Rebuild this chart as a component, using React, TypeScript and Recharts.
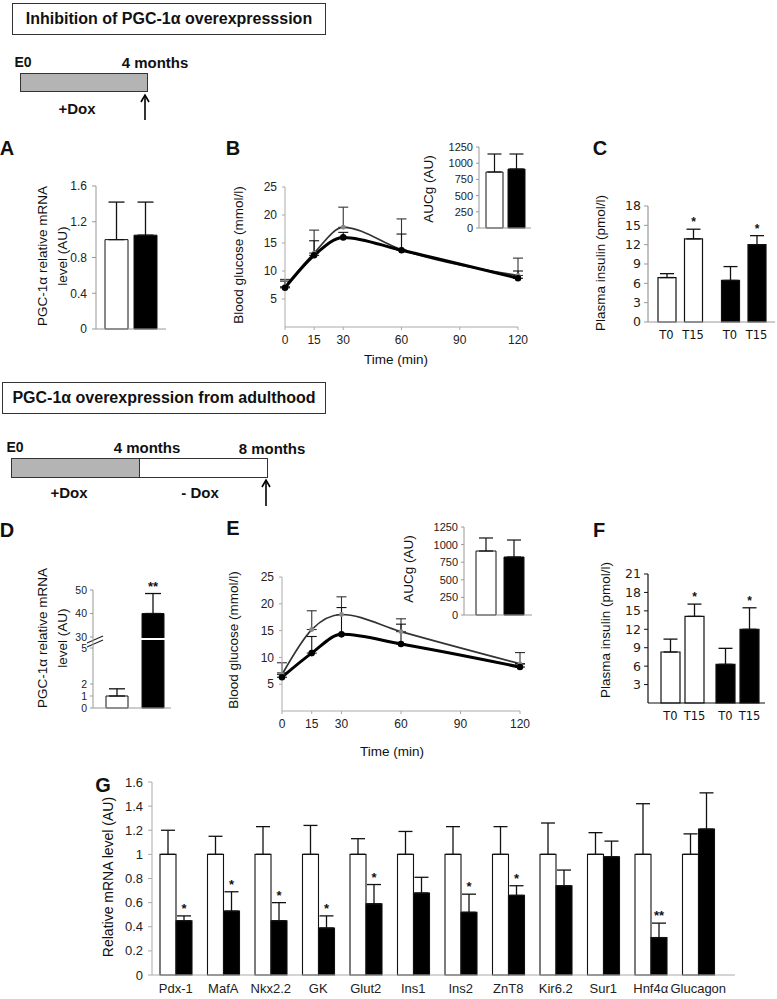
import React from "react";
import {
  BarChart, Bar, LineChart, Line, XAxis, YAxis, ErrorBar, Cell, LabelList, ReferenceLine,
} from "recharts";

const ARIAL = "'Liberation Sans', Arial, sans-serif";
const VERD = "'DejaVu Sans', Verdana, sans-serif";
const INK = "#111";

// ---- A: PGC-1α mRNA after 4 months on Dox
const A_GROUPS = ["Control", "Tg"];
const A_VALUES = [1.0, 1.05];
const A_ERRORS = [0.42, 0.37];
const A_TICKS = [0, 0.4, 0.8, 1.2, 1.6];

// ---- B / E: glucose tolerance test
const GTT_TIMES = [0, 15, 30, 60, 120];
const TIME_TICKS = [0, 15, 30, 60, 90, 120];
const GLUCOSE_TICKS = [5, 10, 15, 20, 25];
const B_CTRL = [7.2, 13.2, 17.8, 13.8, 9.2];
const B_CTRL_ERR = [1.3, 4.1, 3.6, 5.5, 3.1];
const B_TG = [7.0, 12.8, 16.0, 13.7, 8.7];
const B_TG_ERR = [1.2, 2.6, 0.9, 2.9, 1.3];
const AUC_TICKS = [0, 250, 500, 750, 1000, 1250];
const B_AUC = [864, 910];
const B_AUC_ERR = [278, 232];

const E_CTRL = [6.8, 15.2, 18.0, 14.8, 8.8];
const E_CTRL_ERR = [2.2, 3.5, 3.3, 2.4, 2.1];
const E_TG = [6.3, 10.8, 14.3, 12.5, 8.2];
const E_TG_ERR = [0.8, 3.1, 5.0, 3.7, 0.6];
const E_AUC = [909, 824];
const E_AUC_ERR = [185, 241];

// ---- C / F: plasma insulin
const INS_TIMES = ["T0", "T15"];
const C_T0 = [6.9, 6.45];
const C_T0_ERR = [0.6, 2.15];
const C_T15 = [12.9, 12.0];
const C_T15_ERR = [1.5, 1.4];
const C_TICKS = [0, 3, 6, 9, 12, 15, 18];

const F_T0 = [8.3, 6.3];
const F_T0_ERR = [2.1, 2.6];
const F_T15 = [14.1, 12.0];
const F_T15_ERR = [2.0, 3.5];
const F_TICKS = [3, 6, 9, 12, 15, 18, 21];
const INS_SIG = ["*", "*"];

// ---- D: PGC-1α mRNA from adulthood (broken axis)
const D_VALUES = [1, 40];
const D_ERRORS = [0.6, 8.5];
const D_TICKS = [0, 1, 2, 5, 30, 40, 50];
const D_SIG = ["", "**"];

// ---- G: islet genes
const GENES = ["Pdx-1", "MafA", "Nkx2.2", "GK", "Glut2", "Ins1", "Ins2", "ZnT8", "Kir6.2", "Sur1", "Hnf4α", "Glucagon"];
const G_CTRL = [1, 1, 1, 1, 1, 1, 1, 1, 1, 1, 1, 1];
const G_CTRL_ERR = [0.2, 0.15, 0.23, 0.24, 0.13, 0.19, 0.23, 0.23, 0.26, 0.18, 0.42, 0.17];
const G_TG = [0.45, 0.53, 0.45, 0.39, 0.59, 0.68, 0.52, 0.66, 0.74, 0.98, 0.31, 1.21];
const G_TG_ERR = [0.04, 0.16, 0.15, 0.1, 0.16, 0.13, 0.15, 0.08, 0.13, 0.13, 0.12, 0.3];
const G_SIG = ["*", "*", "*", "*", "*", "", "*", "*", "", "", "**", ""];
const G_TICKS = [0, 0.2, 0.4, 0.6, 0.8, 1, 1.2, 1.4, 1.6];

// broken axis for D: lower segment kept as is, upper segment compressed
const D_BREAK_LOW = 5.75;
const D_BREAK_HIGH = 29.13;
const D_UPPER_SCALE = 0.196;
const dAxis = (v: number) => (v <= D_BREAK_LOW ? v : D_BREAK_LOW + (v - D_BREAK_HIGH) * D_UPPER_SCALE);

const FILLS = ["#fff", "#000"];

function Txt({ x, y, children, size = 13, bold = false, family = ARIAL }: any) {
  return (
    <div style={{
      position: "absolute", left: x, top: y, transform: "translate(-50%, -50%)",
      fontSize: size, fontWeight: bold ? 700 : 400, fontFamily: family,
      whiteSpace: "nowrap", lineHeight: 1, color: INK,
    }}>{children}</div>
  );
}

function VLabel({ x, y, lines, size = 13.5 }: any) {
  return (
    <div style={{
      position: "absolute", left: x, top: y, transform: "translate(-50%, -50%) rotate(-90deg)",
      fontSize: size, fontFamily: ARIAL, whiteSpace: "nowrap", lineHeight: 1.45,
      textAlign: "center", color: INK,
    }}>{lines.map((l: string) => <div key={l}>{l}</div>)}</div>
  );
}

function Arrow({ x, y1, y2 }: any) {
  return (
    <svg style={{ position: "absolute", left: x - 6, top: y1 - 2 }} width={12} height={y2 - y1 + 4}>
      <line x1={6} x2={6} y1={3} y2={y2 - y1 + 2} stroke="#000" strokeWidth={1.6} />
      <polyline points={`2,9 6,2 10,9`} fill="none" stroke="#000" strokeWidth={1.6} />
    </svg>
  );
}

function Box({ left, top, width, height, children }: any) {
  return (
    <div style={{
      position: "absolute", left, top, width, height, boxSizing: "border-box",
      border: "1.5px solid #333", display: "flex", alignItems: "center", justifyContent: "center",
      fontFamily: ARIAL, fontWeight: 700, fontSize: 16, color: INK,
    }}>{children}</div>
  );
}

function Place({ left, top, children }: any) {
  return <div style={{ position: "absolute", left, top }}>{children}</div>;
}

// star above the error bar: bar height gives pixels per unit
function stars(sig: string[], vals: number[], errs: number[], size = 13) {
  return (props: any) => {
    const vb = props.viewBox ?? props;
    const { x, y, width, height } = vb;
    const i = props.index;
    const s = sig[i];
    if (!s) return null;
    const top = y - errs[i] * (Math.abs(height) / vals[i]);
    return (
      <text key={`s${i}`} x={x + width / 2} y={top - 3} textAnchor="middle"
        fontFamily={ARIAL} fontSize={size} fontWeight={700} fill={INK}>{s}</text>
    );
  };
}

function pairTick(offset: number, family: string, size: number) {
  return (props: any) => (
    <g>
      {INS_TIMES.map((t, i) => (
        <text key={t} x={props.x + (i === 0 ? -offset : offset)} y={props.y} dy="0.71em"
          textAnchor="middle" fontFamily={family} fontSize={size} fill={INK}>{t}</text>
      ))}
    </g>
  );
}

const tickStyle = (size: number, family = ARIAL) => ({ fontSize: size, fill: "#222", fontFamily: family });

function GlucoseChart({ ctl, ctlErr, tg, tgErr, width, height }: any) {
  const data = GTT_TIMES.map((t, i) => ({
    t, ctl: ctl[i], ctlE: [0, ctlErr[i]], tg: tg[i], tgE: [0, tgErr[i]],
  }));
  return (
    <LineChart width={width} height={height} data={data} margin={{ top: 17, right: 10, bottom: 0, left: 0 }}>
      <XAxis type="number" dataKey="t" domain={[0, 120]} ticks={TIME_TICKS} interval={0} height={25}
        tickSize={3} tickMargin={5} axisLine={{ stroke: "#aaa" }} tickLine={{ stroke: "#aaa" }}
        tick={tickStyle(12)} />
      <YAxis width={30} domain={[0, 25]} ticks={GLUCOSE_TICKS} interval={0} tickSize={3} tickMargin={5}
        axisLine={{ stroke: "#aaa" }} tickLine={{ stroke: "#aaa" }} tick={tickStyle(12)} />
      <Line dataKey="ctl" type="monotone" stroke="#333" strokeWidth={1.7}
        dot={{ r: 1.6, fill: "#888", stroke: "#888" }} isAnimationActive={false}>
        <ErrorBar dataKey="ctlE" width={5} stroke="#333" strokeWidth={1.1} direction="y" />
      </Line>
      <Line dataKey="tg" type="monotone" stroke="#000" strokeWidth={3}
        dot={{ r: 1.8, fill: "#000", stroke: "#000" }} isAnimationActive={false}>
        <ErrorBar dataKey="tgE" width={5} stroke="#111" strokeWidth={1.1} direction="y" />
      </Line>
    </LineChart>
  );
}

function AucChart({ values, errors, width, height, padL, padR, barSize }: any) {
  const data = A_GROUPS.map((g, i) => ({ g, v: values[i], e: [0, errors[i]] }));
  return (
    <BarChart width={width} height={height} data={data} margin={{ top: 7, right: 2, bottom: 0, left: 0 }}>
      <XAxis dataKey="g" tick={false} tickLine={false} height={8} padding={{ left: padL, right: padR }}
        axisLine={{ stroke: "#999" }} />
      <YAxis width={35} domain={[0, 1250]} ticks={AUC_TICKS} interval={0} tickSize={3} tickMargin={3}
        axisLine={{ stroke: "#999" }} tickLine={{ stroke: "#999" }} tick={tickStyle(11)} />
      <Bar dataKey="v" barSize={barSize} stroke={INK} strokeWidth={1} isAnimationActive={false}>
        {data.map((d, i) => <Cell key={d.g} fill={FILLS[i]} />)}
        <ErrorBar dataKey="e" width={7} stroke={INK} strokeWidth={1.2} direction="y" />
      </Bar>
    </BarChart>
  );
}

function InsulinChart({ t0, t0Err, t15, t15Err, ticks, width, height, top, barSize, barGap, padL, axis, tickFont, family }: any) {
  const data = A_GROUPS.map((g, i) => ({
    g, t0: t0[i], t0E: [0, t0Err[i]], t15: t15[i], t15E: [0, t15Err[i]],
  }));
  return (
    <BarChart width={width} height={height} data={data} barGap={barGap}
      margin={{ top, right: 2, bottom: 0, left: 0 }}>
      <XAxis dataKey="g" interval={0} height={24} tickSize={0} tickMargin={9}
        padding={{ left: padL, right: 0 }} axisLine={{ stroke: axis, strokeWidth: 1.2 }}
        tick={pairTick((barSize + barGap) / 2, family, tickFont)} />
      <YAxis width={34} domain={[0, ticks[ticks.length - 1]]} ticks={ticks} interval={0}
        tickSize={4} tickMargin={3} axisLine={{ stroke: axis, strokeWidth: 1.2 }} tickLine={{ stroke: axis }}
        tick={tickStyle(tickFont + 1, family)} />
      <Bar dataKey="t0" barSize={barSize} stroke={INK} strokeWidth={1.2} isAnimationActive={false}>
        {data.map((d, i) => <Cell key={d.g} fill={FILLS[i]} />)}
        <ErrorBar dataKey="t0E" width={7} stroke={INK} strokeWidth={1.3} direction="y" />
      </Bar>
      <Bar dataKey="t15" barSize={barSize} stroke={INK} strokeWidth={1.2} isAnimationActive={false}>
        {data.map((d, i) => <Cell key={d.g} fill={FILLS[i]} />)}
        <ErrorBar dataKey="t15E" width={7} stroke={INK} strokeWidth={1.3} direction="y" />
        <LabelList dataKey="t15" content={stars(INS_SIG, t15, t15Err, 12)} />
      </Bar>
    </BarChart>
  );
}

export default function App() {
  const aData = A_GROUPS.map((g, i) => ({ g, v: A_VALUES[i], e: [0, A_ERRORS[i]] }));

  const dDisp = D_VALUES.map(dAxis);
  const dErrDisp = D_VALUES.map((v, i) => dAxis(v + D_ERRORS[i]) - dAxis(v));
  const dData = A_GROUPS.map((g, i) => ({ g, v: dDisp[i], e: [0, dErrDisp[i]] }));
  const dTicks = D_TICKS.map(dAxis);
  const dLabel = (v: number) => {
    const i = dTicks.findIndex((t) => Math.abs(t - v) < 1e-6);
    return i >= 0 ? String(D_TICKS[i]) : "";
  };

  const gData = GENES.map((gene, i) => ({
    gene, ctl: G_CTRL[i], ctlE: [0, G_CTRL_ERR[i]], tg: G_TG[i], tgE: [0, G_TG_ERR[i]],
  }));

  return (
    <div style={{
      position: "absolute", left: 0, top: 0, width: 777, height: 999, background: "#fff",
      fontFamily: ARIAL, overflow: "hidden",
    }}>
      {/* top scheme */}
      <Box left={12} top={3} width={314} height={32}>Inhibition of PGC-1α overexpresssion</Box>
      <Txt x={23} y={62} size={14} bold>E0</Txt>
      <Txt x={155} y={62} size={15} bold>4 months</Txt>
      <div style={{ position: "absolute", left: 20, top: 73, width: 128, height: 19, boxSizing: "border-box", background: "#b4b4b4", border: "1.5px solid #333" }} />
      <Txt x={77} y={108} size={15} bold>+Dox</Txt>
      <Arrow x={145} y1={95} y2={120} />

      {/* bottom scheme */}
      <Box left={2} top={382} width={324} height={32}>PGC-1α overexpression from adulthood</Box>
      <Txt x={15} y={447} size={14} bold>E0</Txt>
      <Txt x={147} y={447} size={15} bold>4 months</Txt>
      <Txt x={272} y={448} size={15} bold>8 months</Txt>
      <div style={{ position: "absolute", left: 11, top: 458, width: 129, height: 20, boxSizing: "border-box", background: "#b4b4b4", border: "1.5px solid #333" }} />
      <div style={{ position: "absolute", left: 138.5, top: 458, width: 129, height: 20, boxSizing: "border-box", background: "#fff", border: "1.5px solid #333" }} />
      <Txt x={69} y={492} size={15} bold>+Dox</Txt>
      <Txt x={200} y={492} size={15} bold>- Dox</Txt>
      <Arrow x={266} y1={480} y2={506} />

      {/* panel letters */}
      <Txt x={7} y={148} size={20} bold>A</Txt>
      <Txt x={233} y={148} size={20} bold>B</Txt>
      <Txt x={600} y={148} size={20} bold>C</Txt>
      <Txt x={7} y={530} size={20} bold>D</Txt>
      <Txt x={233} y={528} size={20} bold>E</Txt>
      <Txt x={599} y={530} size={20} bold>F</Txt>
      <Txt x={103} y={785} size={20} bold>G</Txt>

      {/* axis titles */}
      <VLabel x={53} y={256} lines={["PGC-1α relative mRNA", "level (AU)"]} />
      <VLabel x={239} y={255} lines={["Blood glucose (mmol/l)"]} />
      <VLabel x={429} y={189} lines={["AUCg (AU)"]} />
      <VLabel x={601} y={263} lines={["Plasma insulin (pmol/l)"]} />
      <VLabel x={53} y={638} lines={["PGC-1α relative mRNA", "level (AU)"]} />
      <VLabel x={234} y={640} lines={["Blood glucose (mmol/l)"]} />
      <VLabel x={409} y={569} lines={["AUCg (AU)"]} />
      <VLabel x={606} y={630} lines={["Plasma insulin (pmol/l)"]} />
      <VLabel x={108} y={877} lines={["Relative mRNA level (AU)"]} size={14} />
      <Txt x={396} y={360} size={13.5}>Time (min)</Txt>
      <Txt x={392} y={752} size={13.5}>Time (min)</Txt>

      {/* A */}
      <Place left={50} top={170}>
        <BarChart width={125} height={180} data={aData} margin={{ top: 16, right: 9, bottom: 0, left: 6 }}>
          <XAxis dataKey="g" tick={false} tickLine={false} height={21} padding={{ left: 6, right: 6 }}
            axisLine={{ stroke: "#999" }} />
          <YAxis width={40} domain={[0, 1.6]} ticks={A_TICKS} interval={0} tickSize={4} tickMargin={5}
            axisLine={{ stroke: "#999" }} tickLine={{ stroke: "#999" }} tick={tickStyle(12)} />
          <Bar dataKey="v" barSize={23} stroke={INK} strokeWidth={1} isAnimationActive={false}>
            {aData.map((d, i) => <Cell key={d.g} fill={FILLS[i]} />)}
            <ErrorBar dataKey="e" width={8} stroke={INK} strokeWidth={1.3} direction="y" />
          </Bar>
        </BarChart>
      </Place>

      {/* B */}
      <Place left={255} top={170}>
        <GlucoseChart ctl={B_CTRL} ctlErr={B_CTRL_ERR} tg={B_TG} tgErr={B_TG_ERR} width={273} height={182} />
      </Place>
      <Place left={444} top={140}>
        <AucChart values={B_AUC} errors={B_AUC_ERR} width={89} height={96} padL={4} padR={4} barSize={17} />
      </Place>

      {/* C */}
      <Place left={614} top={190}>
        <InsulinChart t0={C_T0} t0Err={C_T0_ERR} t15={C_T15} t15Err={C_T15_ERR} ticks={C_TICKS}
          width={163} height={156} top={16} barSize={18} barGap={8.5} padL={0} axis="#999"
          tickFont={11.5} family={VERD} />
      </Place>

      {/* D */}
      <Place left={61} top={575}>
        <BarChart width={115} height={145} data={dData} margin={{ top: 15, right: 5, bottom: 0, left: 0 }}>
          <XAxis dataKey="g" tick={false} tickLine={false} height={12} padding={{ left: 6, right: 0 }}
            axisLine={{ stroke: "#999" }} />
          <YAxis width={32} domain={[0, dAxis(50)]} ticks={dTicks} interval={0} tickSize={3} tickMargin={3}
            tickFormatter={dLabel} axisLine={{ stroke: "#999" }} tickLine={{ stroke: "#999" }}
            tick={tickStyle(10.5)} />
          <Bar dataKey="v" barSize={22} stroke={INK} strokeWidth={1} isAnimationActive={false}>
            {dData.map((d, i) => <Cell key={d.g} fill={FILLS[i]} />)}
            <ErrorBar dataKey="e" width={8} stroke={INK} strokeWidth={1.3} direction="y" />
            <LabelList dataKey="v" content={stars(D_SIG, dDisp, dErrDisp, 13)} />
          </Bar>
          <ReferenceLine y={D_BREAK_LOW} stroke="#fff" strokeWidth={2}
            label={(p: any) => {
              const { x, y } = p.viewBox;
              return (
                <g>
                  <line x1={x - 6} y1={y + 4} x2={x + 10} y2={y - 3} stroke="#222" strokeWidth={1.2} />
                  <line x1={x - 6} y1={y + 8} x2={x + 10} y2={y + 1} stroke="#222" strokeWidth={1.2} />
                </g>
              );
            }} />
        </BarChart>
      </Place>

      {/* E */}
      <Place left={252} top={560}>
        <GlucoseChart ctl={E_CTRL} ctlErr={E_CTRL_ERR} tg={E_TG} tgErr={E_TG_ERR} width={278} height={176} />
      </Place>
      <Place left={429} top={520}>
        <AucChart values={E_AUC} errors={E_AUC_ERR} width={105} height={103} padL={8} padR={4} barSize={20} />
      </Place>

      {/* F */}
      <Place left={614} top={560}>
        <InsulinChart t0={F_T0} t0Err={F_T0_ERR} t15={F_T15} t15Err={F_T15_ERR} ticks={F_TICKS}
          width={153} height={167} top={14} barSize={19} barGap={5} padL={7} axis="#111"
          tickFont={11.5} family={VERD} />
      </Place>

      {/* G */}
      <Place left={112} top={770}>
        <BarChart width={625} height={229} data={gData} barGap={0}
          margin={{ top: 12, right: 2, bottom: 0, left: 0 }}>
          <XAxis dataKey="gene" interval={0} height={24} tickSize={0} tickMargin={9}
            padding={{ left: 0, right: 13 }} axisLine={{ stroke: "#aaa" }} tick={tickStyle(13)} />
          <YAxis width={40} domain={[0, 1.6]} ticks={G_TICKS} interval={0} tickSize={4} tickMargin={5}
            axisLine={{ stroke: "#aaa" }} tickLine={{ stroke: "#aaa" }} tick={tickStyle(13)} />
          <Bar dataKey="ctl" barSize={16} fill="#fff" stroke={INK} strokeWidth={1.1} isAnimationActive={false}>
            <ErrorBar dataKey="ctlE" width={7} stroke={INK} strokeWidth={1.3} direction="y" />
          </Bar>
          <Bar dataKey="tg" barSize={16} fill="#000" stroke={INK} strokeWidth={1.1} isAnimationActive={false}>
            <ErrorBar dataKey="tgE" width={7} stroke={INK} strokeWidth={1.3} direction="y" />
            <LabelList dataKey="tg" content={stars(G_SIG, G_TG, G_TG_ERR, 13)} />
          </Bar>
        </BarChart>
      </Place>
    </div>
  );
}
